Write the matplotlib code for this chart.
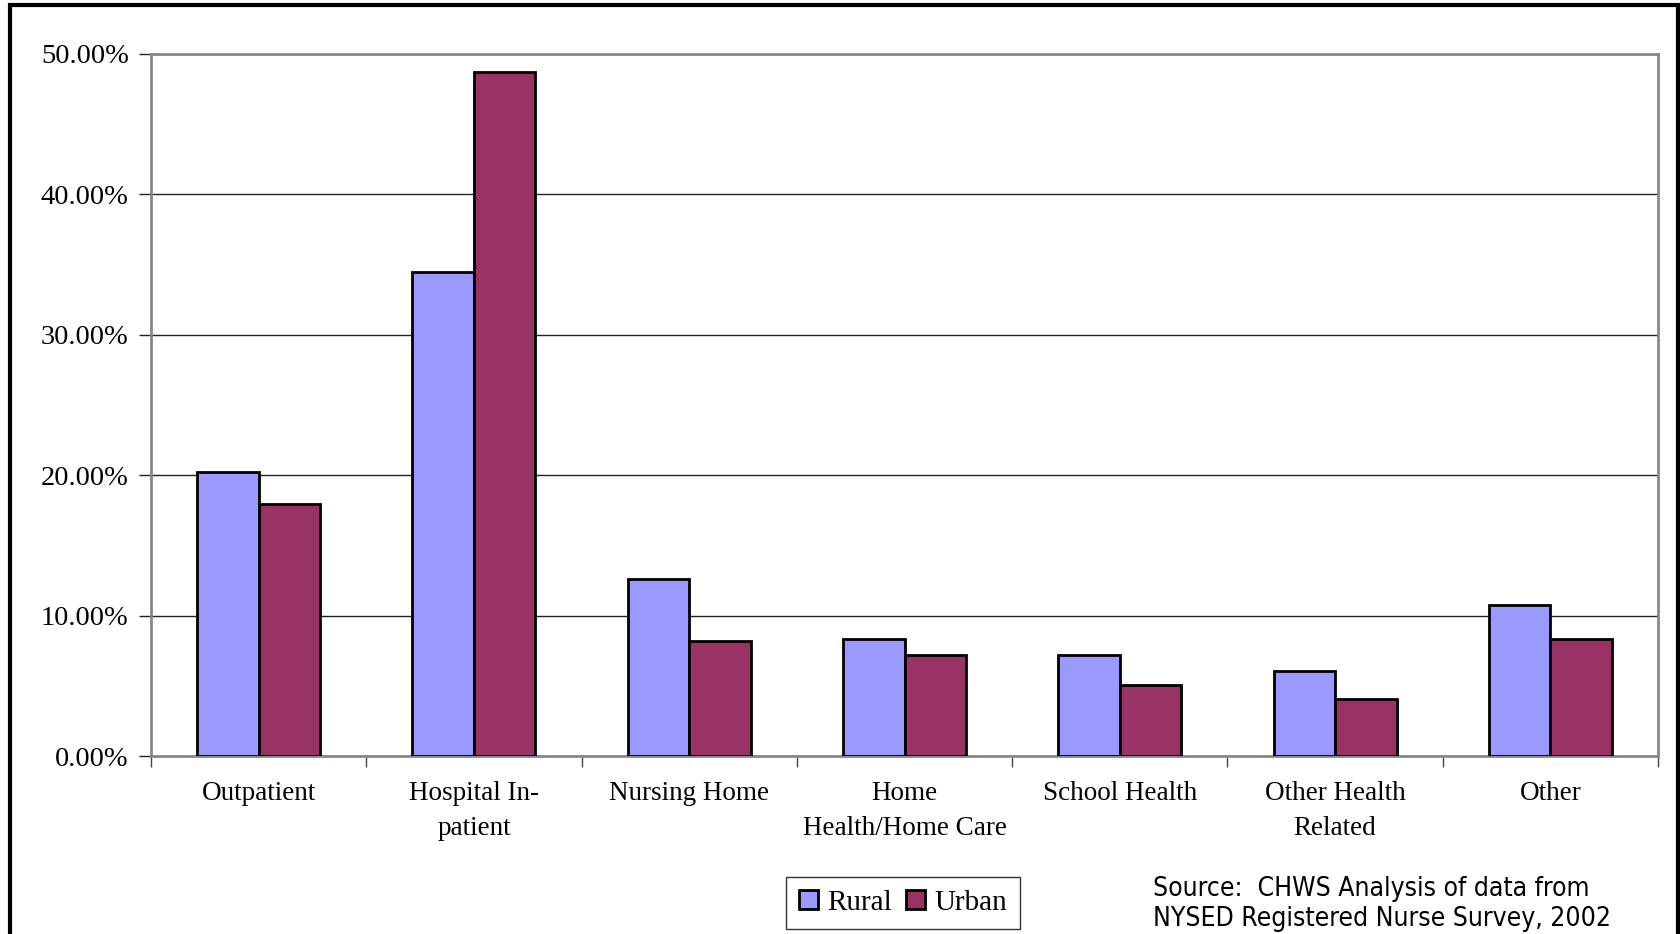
import numpy as np
import matplotlib
matplotlib.use("Agg")
import matplotlib.pyplot as plt
from matplotlib.patches import Rectangle
from matplotlib.ticker import FuncFormatter, FixedLocator

# Share of RNs by employment setting, rural vs urban (percent)
settings = ["Outpatient", "Hospital In-\npatient", "Nursing Home", "Home\nHealth/Home Care",
            "School Health", "Other Health\nRelated", "Other"]
rural = [20.2, 34.45, 12.62, 8.35, 7.2, 6.05, 10.8]
urban = [17.95, 48.7, 8.2, 7.2, 5.05, 4.1, 8.35]
series_names = ["Rural", "Urban"]
y_ticks = [0, 10, 20, 30, 40, 50]

serif = ["Liberation Serif", "DejaVu Serif"]

fig = plt.figure(figsize=(16.8, 9.34), dpi=100)
fig.patch.set_facecolor("white")

# outer chart border (bottom edge runs off the page)
fig.patches.append(Rectangle((9.5 / 1680, -0.05), (1678 - 9.5) / 1680, 1.05 - 5.5 / 934,
                             transform=fig.transFigure, fill=False, edgecolor="black",
                             linewidth=3, zorder=0))

ax = fig.add_axes([151 / 1680, (934 - 756.4) / 934, (1658 - 151) / 1680, (756.4 - 53.6) / 934])

x = np.arange(len(settings))
w = 1 / 3.5
ax.bar(x - w / 2, rural, width=w, color="#9999FF", edgecolor="black", linewidth=2,
       label=series_names[0], zorder=3)
ax.bar(x + w / 2, urban, width=w, color="#993366", edgecolor="black", linewidth=2,
       label=series_names[1], zorder=3)

ax.set_xlim(-0.5, len(settings) - 0.5)
ax.set_ylim(0, 50)
ax.set_yticks(y_ticks)
ax.yaxis.set_major_formatter(FuncFormatter(lambda v, p: f"{v:.2f}%"))
ax.grid(axis="y", color="#222222", linewidth=1.0, zorder=1)

# category labels centred, tick marks on the group boundaries
ax.set_xticks(x)
ax.set_xticklabels(settings, fontfamily=serif, fontsize=19.5, linespacing=1.5)
ax.xaxis.set_minor_locator(FixedLocator(np.arange(len(settings) + 1) - 0.5))
ax.tick_params(axis="x", which="major", length=0, pad=18)
ax.tick_params(axis="x", which="minor", length=8, width=1, color="#444444")
ax.tick_params(axis="y", length=9, width=1, color="#222222", pad=7)
for lab in ax.get_yticklabels():
    lab.set_fontfamily(serif)
    lab.set_fontsize(20.5)

for side in ["top", "right", "left", "bottom"]:
    ax.spines[side].set_color("#888888")
    ax.spines[side].set_linewidth(2)

leg = ax.legend(loc="center", bbox_to_anchor=(903 / 1680, (934 - 903) / 934),
                bbox_transform=fig.transFigure, ncol=2, frameon=True, fancybox=False,
                prop={"family": serif, "size": 21}, handlelength=0.65, handleheight=0.65,
                handletextpad=0.3, columnspacing=0.5, borderpad=0.45)
leg.get_frame().set_edgecolor("black")
leg.get_frame().set_linewidth(1.0)

fig.text(1153 / 1680, (934 - 904) / 934,
         "Source:  CHWS Analysis of data from\nNYSED Registered Nurse Survey, 2002",
         fontfamily=["DejaVu Sans"], fontsize=19, ha="left", va="center",
         linespacing=1.25, stretch="condensed")

fig.savefig("out.png", dpi=100, facecolor="white")
